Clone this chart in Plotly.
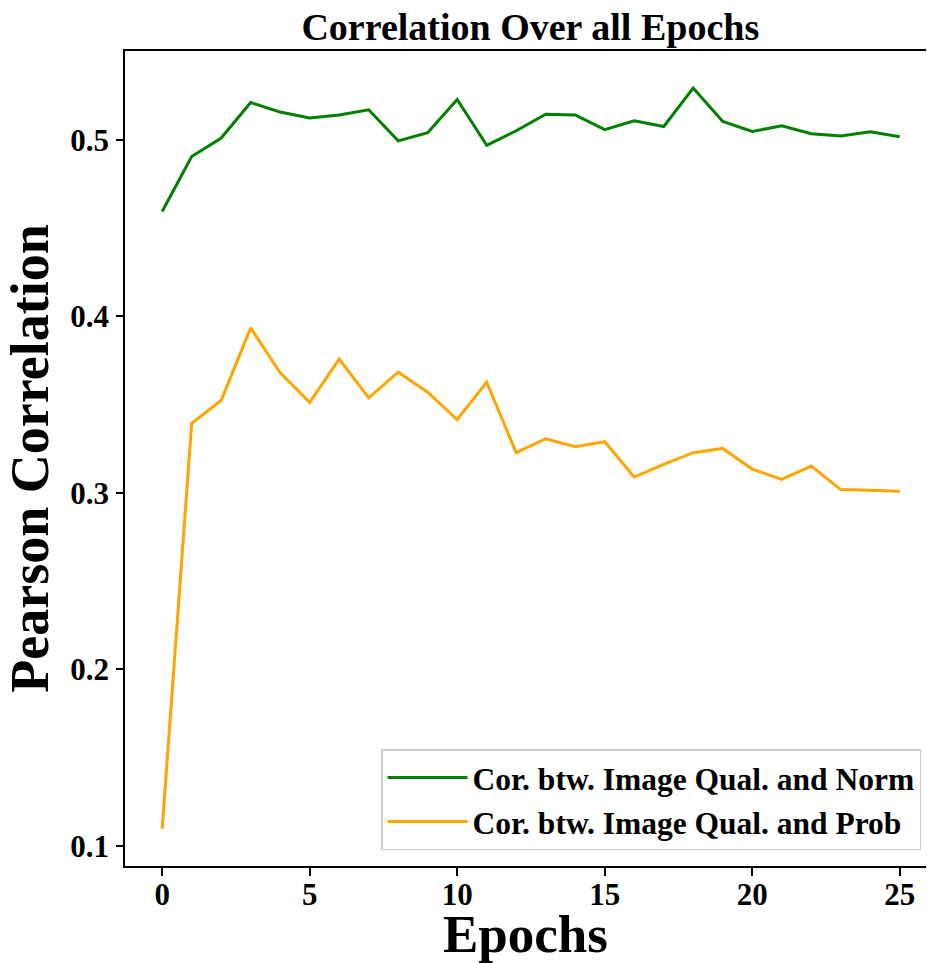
import plotly.graph_objects as go

epochs = list(range(26))
norm_corr = [0.4594, 0.4905, 0.5010, 0.5211, 0.5157, 0.5123, 0.5141, 0.5170,
             0.4994, 0.5040, 0.5228, 0.4968, 0.5051, 0.5145, 0.5141, 0.5057,
             0.5108, 0.5075, 0.5293, 0.5104, 0.5047, 0.5079, 0.5034, 0.5021,
             0.5045, 0.5017]
prob_corr = [0.1095, 0.3393, 0.3523, 0.3934, 0.3680, 0.3512, 0.3757, 0.3538,
             0.3683, 0.3570, 0.3415, 0.3627, 0.3227, 0.3306, 0.3261, 0.3289,
             0.3089, 0.3161, 0.3227, 0.3251, 0.3134, 0.3076, 0.3151, 0.3018,
             0.3014, 0.3008]
series_names = ["Cor. btw. Image Qual. and Norm", "Cor. btw. Image Qual. and Prob"]
x_ticks = [0, 5, 10, 15, 20, 25]
y_ticks = [0.1, 0.2, 0.3, 0.4, 0.5]

FONT = "Liberation Serif, Times New Roman, serif"

fig = go.Figure()
fig.add_trace(go.Scatter(x=epochs, y=norm_corr, mode="lines", name=series_names[0],
                         line=dict(color="#008000", width=3)))
fig.add_trace(go.Scatter(x=epochs, y=prob_corr, mode="lines", name=series_names[1],
                         line=dict(color="#FFA500", width=3)))

fig.update_layout(
    width=927, height=963,
    margin=dict(l=125, r=1, t=51, b=97, autoexpand=False),
    paper_bgcolor="white", plot_bgcolor="white",
    title=dict(text="Correlation Over all Epochs", x=0.506, xref="paper", xanchor="center",
               y=0.972, yref="container", yanchor="middle",
               font=dict(family=FONT, size=38, color="black", weight="bold")),
    xaxis=dict(range=[-1.26, 25.89], tickvals=x_ticks, ticks="outside", ticklen=8, tickwidth=1.5,
               tickcolor="black", showline=True, linecolor="black", linewidth=1.5, mirror=True,
               showgrid=False, zeroline=False, automargin=False, ticklabelstandoff=-8,
               tickfont=dict(family=FONT, size=31, color="black", weight="bold"),
               title=dict(text="Epochs", standoff=17,
                          font=dict(family=FONT, size=53, color="black", weight="bold"))),
    yaxis=dict(range=[0.0885, 0.5503], tickvals=y_ticks, tickformat=".1f", ticks="outside",
               ticklen=7, tickwidth=1.5, tickcolor="black", showline=True, linecolor="black",
               linewidth=1.5, mirror=False, showgrid=False, zeroline=False, automargin=False,
               ticklabelstandoff=1,
               tickfont=dict(family=FONT, size=31, color="black", weight="bold"),
               title=dict(text="Pearson Correlation", standoff=20,
                          font=dict(family=FONT, size=54, color="black", weight="bold"))),
    legend=dict(x=0.9938, y=0.0196, xanchor="right", yanchor="bottom",
                bgcolor="white", bordercolor="#cccccc", borderwidth=1.5,
                font=dict(family=FONT, size=31.5, color="black", weight="bold"),
                itemwidth=80),
)

fig.write_html("out.html", config={"displayModeBar": False},
               post_script="document.body.style.margin='0px';document.body.style.overflow='hidden';")
